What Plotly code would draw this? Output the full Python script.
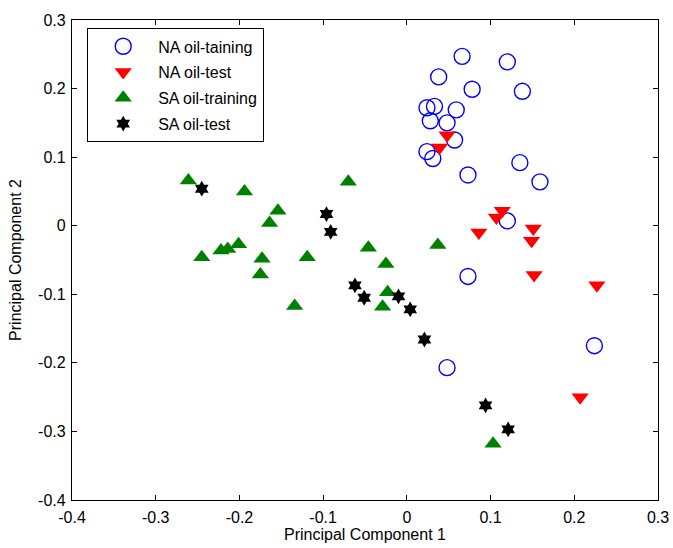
import plotly.graph_objects as go

# NA oil-training (blue circles)
na_train_x = [0.066, 0.120, 0.038, 0.078, 0.138, 0.024, 0.033, 0.059, 0.028, 0.048,
              0.057, 0.024, 0.031, 0.135, 0.073, 0.159, 0.120, 0.073, 0.224, 0.048]
na_train_y = [0.247, 0.239, 0.217, 0.199, 0.196, 0.172, 0.174, 0.169, 0.153, 0.150,
              0.125, 0.108, 0.098, 0.092, 0.074, 0.064, 0.007, -0.074, -0.175, -0.207]

# NA oil-test (red down triangles)
na_test_x = [0.048, 0.039, 0.114, 0.107, 0.086, 0.151, 0.149, 0.152, 0.227, 0.207]
na_test_y = [0.132, 0.114, 0.022, 0.012, -0.010, -0.004, -0.022, -0.072, -0.087, -0.250]

# SA oil-training (green up triangles)
sa_train_x = [-0.261, -0.194, -0.154, -0.164, -0.070, -0.245, -0.222, -0.214, -0.201, -0.173,
              -0.175, -0.119, -0.134, -0.046, -0.025, -0.023, -0.029, 0.037, 0.103]
sa_train_y = [0.066, 0.050, 0.022, 0.004, 0.064, -0.046, -0.036, -0.034, -0.027, -0.048,
              -0.071, -0.046, -0.117, -0.032, -0.056, -0.097, -0.118, -0.028, -0.318]

# SA oil-test (black stars)
sa_test_x = [-0.245, -0.096, -0.091, -0.062, -0.051, -0.010, 0.004, 0.021, 0.094, 0.121]
sa_test_y = [0.054, 0.017, -0.009, -0.087, -0.105, -0.103, -0.122, -0.166, -0.262, -0.297]

tick_vals = [-0.4, -0.3, -0.2, -0.1, 0, 0.1, 0.2, 0.3]
tick_text = ["-0.4", "-0.3", "-0.2", "-0.1", "0", "0.1", "0.2", "0.3"]

FONT = "Liberation Sans, Arial"

fig = go.Figure()
fig.add_trace(go.Scatter(x=na_train_x, y=na_train_y, mode="markers", name="NA oil-taining",
                         legendgroup="a",
                         marker=dict(symbol="circle-open", size=16, color="#0000ff",
                                     line=dict(width=1.4, color="#0000ff"))))
fig.add_trace(go.Scatter(x=na_test_x, y=na_test_y, mode="markers", name="NA oil-test",
                         legendgroup="b",
                         marker=dict(symbol="triangle-down", size=15, color="#ff0000",
                                     line=dict(width=0))))
fig.add_trace(go.Scatter(x=sa_train_x, y=sa_train_y, mode="markers", name="SA oil-training",
                         legendgroup="c",
                         marker=dict(symbol="triangle-up", size=15, color="#008000",
                                     line=dict(width=0))))
fig.add_trace(go.Scatter(x=sa_test_x, y=sa_test_y, mode="markers", name="SA oil-test",
                         legendgroup="d",
                         marker=dict(symbol="hexagram", size=12, color="#000000",
                                     line=dict(width=0))))

axis_common = dict(
    showgrid=False, zeroline=False, showline=True, linecolor="black", linewidth=1.2,
    mirror="ticks", ticks="inside", ticklen=5, tickcolor="black",
    tickvals=tick_vals, ticktext=tick_text, automargin=False,
    tickfont=dict(family=FONT, size=16, color="black"),
)
fig.update_xaxes(range=[-0.4, 0.3], ticklabelstandoff=3,
                 title=dict(text="Principal Component 1",
                            font=dict(family=FONT, size=16, color="black"), standoff=2),
                 **axis_common)
fig.update_yaxes(range=[-0.4, 0.3], ticklabelstandoff=2,
                 title=dict(text="Principal Component 2",
                            font=dict(family=FONT, size=16, color="black"), standoff=12),
                 **axis_common)

fig.update_layout(
    width=673, height=548,
    margin=dict(l=72, r=15, t=20, b=48),
    paper_bgcolor="white", plot_bgcolor="white",
    font=dict(family=FONT, size=16, color="black"),
    legend=dict(x=0.0256, y=0.983, xanchor="left", yanchor="top",
                bgcolor="white", bordercolor="black", borderwidth=1.2,
                font=dict(family=FONT, size=16, color="black"),
                itemsizing="trace", itemwidth=60, tracegroupgap=2),
)

fig.write_html("out.html")
